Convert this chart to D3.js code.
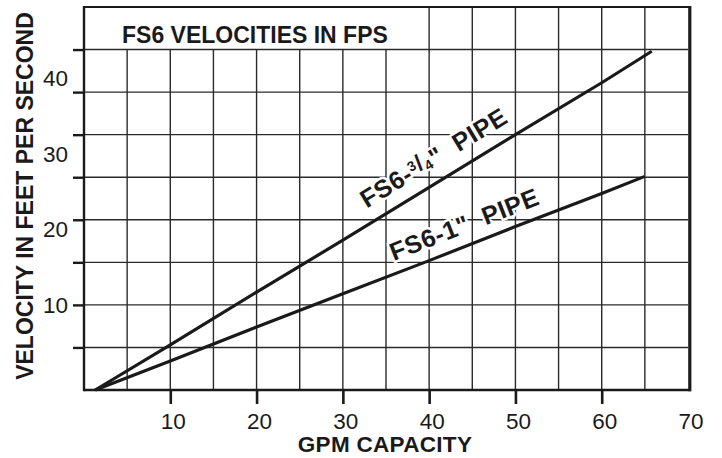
<!DOCTYPE html>
<html>
<head>
<meta charset="utf-8">
<script src="https://cdn.jsdelivr.net/npm/d3@7"></script>
<style>
  html, body { margin: 0; padding: 0; background: #fff; }
  svg { display: block; }
  text { font-family: "Liberation Sans", Arial, Helvetica, sans-serif; fill: #1a1a1a; }
</style>
</head>
<body>
<svg id="chart" width="722" height="458"></svg>
<script>
// ---- data ----
const title = "FS6 VELOCITIES IN FPS";
const xTitle = "GPM CAPACITY";
const yTitle = "VELOCITY IN FEET PER SECOND";
const xTickLabels = [10, 20, 30, 40, 50, 60, 70];
const yTickLabels = [10, 20, 30, 40];
// GPM vs velocity (fps)
const pipe34Gpm = [1.3, 10, 20, 30, 40, 50, 60, 65.8];
const pipe34Vel = [0, 5.3, 11.5, 17.6, 23.8, 30.0, 36.1, 39.8];
const pipe1Gpm  = [1.3, 10, 20, 30, 40, 50, 60, 65.0];
const pipe1Vel  = [0, 3.4, 7.4, 11.3, 15.2, 19.2, 23.1, 25.1];

const svg = d3.select("#chart");
const W = 722, H = 458;
svg.append("rect").attr("width", W).attr("height", H).attr("fill", "#fff");

const x = d3.scaleLinear().domain([0, 70]).range([84, 688]);
const y = d3.scaleLinear().domain([0, 45]).range([390, 7]);
// the printed y labels sit on their own spacing in the reference
const yLab = d3.scaleLinear().domain([10, 40]).range([305, 78]);

const ink = "#1a1a1a";

// grid
const g = svg.append("g");
g.selectAll("line.v").data(d3.range(5, 70, 5)).join("line")
  .attr("x1", d => x(d)).attr("x2", d => x(d))
  .attr("y1", y(0)).attr("y2", d => d >= 40 ? y(45) : y(40))
  .attr("stroke", "#2a2a2a").attr("stroke-width", 1.4);
g.selectAll("line.h").data(d3.range(5, 45, 5)).join("line")
  .attr("y1", d => y(d)).attr("y2", d => y(d))
  .attr("x1", x(0)).attr("x2", x(70))
  .attr("stroke", "#2a2a2a").attr("stroke-width", 1.4);

// axes ticks
const xAxis = d3.axisBottom(x).tickValues([10, 20, 30, 40, 50, 60]).tickSize(14).tickFormat("");
const xa = svg.append("g").attr("transform", `translate(0,${y(0)})`).call(xAxis);
xa.select(".domain").remove();
xa.selectAll("line").attr("stroke", ink).attr("stroke-width", 2.6);

const yAxis = d3.axisLeft(y).tickValues(d3.range(5, 45, 5)).tickSize(11).tickFormat("");
const ya = svg.append("g").attr("transform", `translate(${x(0)},0)`).call(yAxis);
ya.select(".domain").remove();
ya.selectAll("line").attr("stroke", ink).attr("stroke-width", 2.4);

// frame
svg.append("line").attr("x1", x(0)).attr("x2", x(0)).attr("y1", y(45) - 1).attr("y2", y(0) + 1.2)
  .attr("stroke", ink).attr("stroke-width", 2.4);
svg.append("line").attr("x1", x(0)).attr("x2", x(70) + 3).attr("y1", y(0)).attr("y2", y(0))
  .attr("stroke", ink).attr("stroke-width", 2.4);
svg.append("line").attr("x1", x(0)).attr("x2", x(70) + 3).attr("y1", y(45)).attr("y2", y(45))
  .attr("stroke", ink).attr("stroke-width", 2.2);
svg.append("line").attr("x1", x(70) + 1.8).attr("x2", x(70) + 1.8).attr("y1", y(45) - 1).attr("y2", y(0) + 1.2)
  .attr("stroke", ink).attr("stroke-width", 3.2);

// tick labels
svg.append("g").selectAll("text").data(xTickLabels).join("text")
  .attr("x", d => x(d) + 3).attr("y", 429)
  .attr("text-anchor", "middle").attr("font-size", 22.5).text(d => d);
svg.append("g").selectAll("text").data(yTickLabels).join("text")
  .attr("x", 68).attr("y", d => yLab(d) + 8)
  .attr("text-anchor", "end").attr("font-size", 22.5).text(d => d);

// titles
svg.append("text").attr("x", 122).attr("y", 43).attr("font-size", 23).attr("font-weight", "bold").text(title);
svg.append("text").attr("x", 385).attr("y", 452).attr("text-anchor", "middle")
  .attr("font-size", 22.5).attr("font-weight", "bold").attr("letter-spacing", 0.3).text(xTitle);
svg.append("text").attr("transform", `translate(33,196) rotate(-90)`).attr("text-anchor", "middle")
  .attr("font-size", 23).attr("font-weight", "bold").text(yTitle);

// lines
const series = [
  { gpm: pipe34Gpm, vel: pipe34Vel, labelAt: 33.6, off: 14, kind: "34" },
  { gpm: pipe1Gpm,  vel: pipe1Vel,  labelAt: 36.4, off: 12, kind: "1" }
];
const line = d3.line().x(d => x(d[0])).y(d => y(d[1]));

series.forEach(s => {
  const pts = s.gpm.map((v, i) => [v, s.vel[i]]);
  svg.append("path").attr("d", line(pts)).attr("fill", "none")
    .attr("stroke", ink).attr("stroke-width", 3.2);
});

series.forEach(s => {
  const pts = s.gpm.map((v, i) => [v, s.vel[i]]);
  const a = pts[0], b = pts[pts.length - 1];
  const ang = Math.atan2(y(b[1]) - y(a[1]), x(b[0]) - x(a[0]));
  const t = (s.labelAt - a[0]) / (b[0] - a[0]);
  const px = x(s.labelAt), py = y(a[1] + t * (b[1] - a[1]));
  const nx = Math.sin(ang), ny = -Math.cos(ang);
  const tx = px + nx * s.off, ty = py + ny * s.off;
  const txt = svg.append("text")
    .attr("transform", `translate(${tx},${ty}) rotate(${ang * 180 / Math.PI})`)
    .attr("font-size", 25).attr("font-weight", "bold").attr("letter-spacing", 0.6)
    .attr("stroke", "#fff").attr("stroke-width", 5).attr("paint-order", "stroke")
    .attr("stroke-linejoin", "round");
  if (s.kind === "34") {
    txt.append("tspan").text("FS6-");
    txt.append("tspan").attr("font-size", 14).attr("dy", -8).text("3");
    txt.append("tspan").attr("font-size", 23).attr("dy", 4).text("/");
    txt.append("tspan").attr("font-size", 14).attr("dy", 4).text("4");
    txt.append("tspan").text("\"\u00A0 PIPE");
  } else {
    txt.append("tspan").text("FS6-1\"\u00A0 PIPE");
  }
});
</script>
</body>
</html>
